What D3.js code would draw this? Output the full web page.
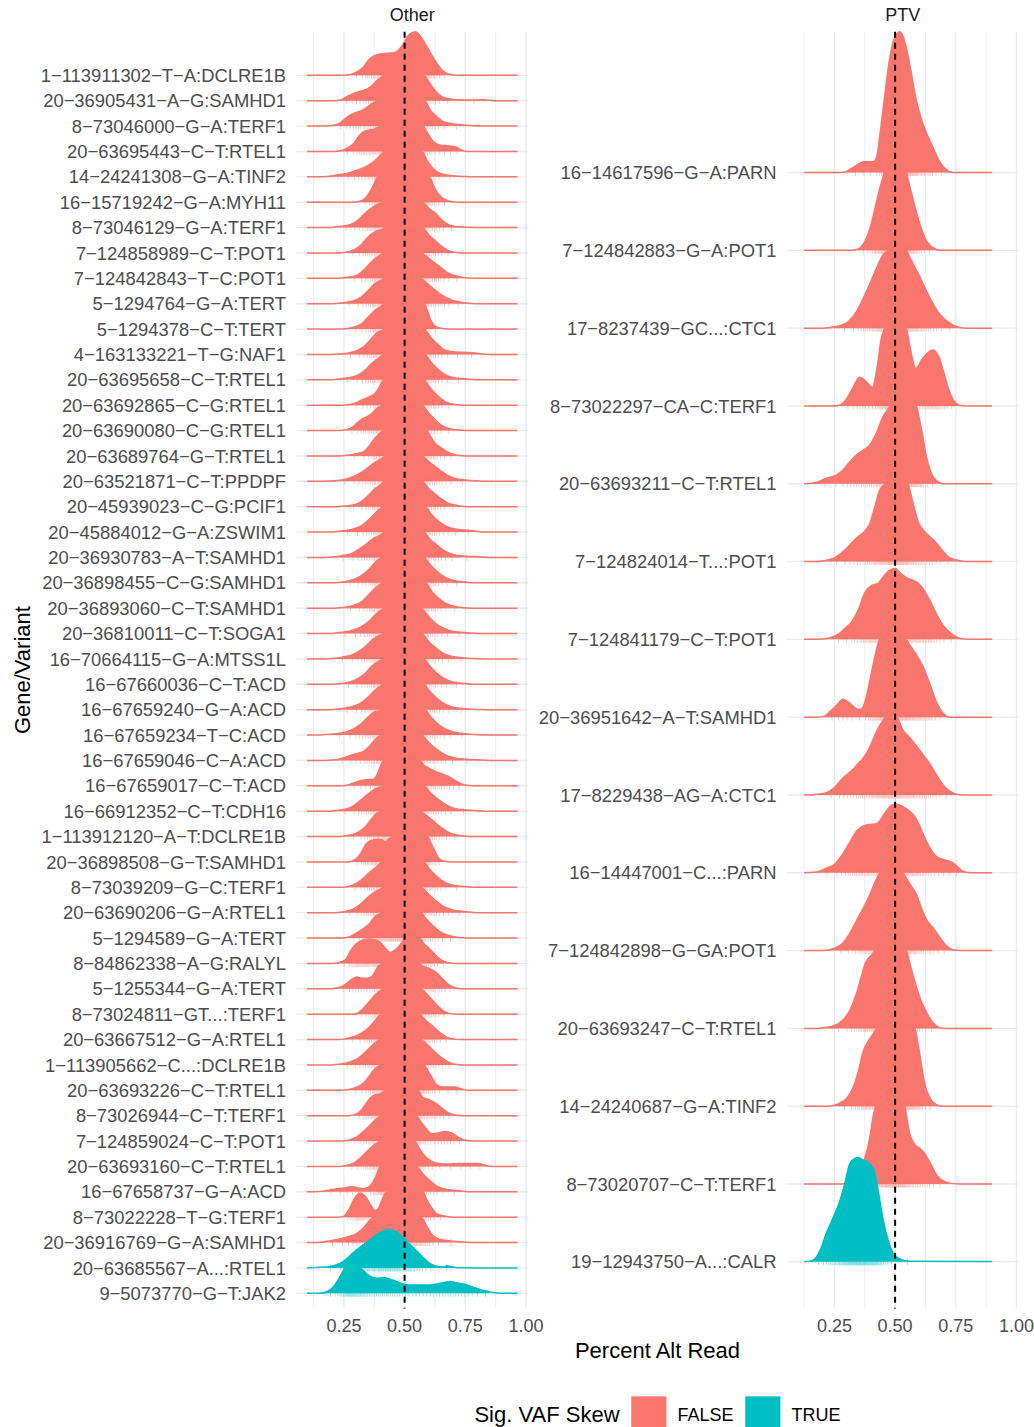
<!DOCTYPE html>
<html>
<head>
<meta charset="utf-8">
<script src="https://cdn.jsdelivr.net/npm/d3@7"></script>
<style>
  html, body { margin: 0; padding: 0; background: #ffffff; }
  svg text { font-family: "Liberation Sans", Arial, Helvetica, sans-serif; }
</style>
</head>
<body>
<svg id="chart" width="1034" height="1427"></svg>
<script>
// ---------- data ----------
const otherVariants = [
  "1−113911302−T−A:DCLRE1B", "20−36905431−A−G:SAMHD1", "8−73046000−G−A:TERF1",
  "20−63695443−C−T:RTEL1", "14−24241308−G−A:TINF2", "16−15719242−G−A:MYH11",
  "8−73046129−G−A:TERF1", "7−124858989−C−T:POT1", "7−124842843−T−C:POT1",
  "5−1294764−G−A:TERT", "5−1294378−C−T:TERT", "4−163133221−T−G:NAF1",
  "20−63695658−C−T:RTEL1", "20−63692865−C−G:RTEL1", "20−63690080−C−G:RTEL1",
  "20−63689764−G−T:RTEL1", "20−63521871−C−T:PPDPF", "20−45939023−C−G:PCIF1",
  "20−45884012−G−A:ZSWIM1", "20−36930783−A−T:SAMHD1", "20−36898455−C−G:SAMHD1",
  "20−36893060−C−T:SAMHD1", "20−36810011−C−T:SOGA1", "16−70664115−G−A:MTSS1L",
  "16−67660036−C−T:ACD", "16−67659240−G−A:ACD", "16−67659234−T−C:ACD",
  "16−67659046−C−A:ACD", "16−67659017−C−T:ACD", "16−66912352−C−T:CDH16",
  "1−113912120−A−T:DCLRE1B", "20−36898508−G−T:SAMHD1", "8−73039209−G−C:TERF1",
  "20−63690206−G−A:RTEL1", "5−1294589−G−A:TERT", "8−84862338−A−G:RALYL",
  "5−1255344−G−A:TERT", "8−73024811−GT...:TERF1", "20−63667512−G−A:RTEL1",
  "1−113905662−C...:DCLRE1B", "20−63693226−C−T:RTEL1", "8−73026944−C−T:TERF1",
  "7−124859024−C−T:POT1", "20−63693160−C−T:RTEL1", "16−67658737−G−A:ACD",
  "8−73022228−T−G:TERF1", "20−36916769−G−A:SAMHD1", "20−63685567−A...:RTEL1",
  "9−5073770−G−T:JAK2"
];
const otherSkew = [
  "FALSE","FALSE","FALSE","FALSE","FALSE","FALSE","FALSE","FALSE","FALSE","FALSE",
  "FALSE","FALSE","FALSE","FALSE","FALSE","FALSE","FALSE","FALSE","FALSE","FALSE",
  "FALSE","FALSE","FALSE","FALSE","FALSE","FALSE","FALSE","FALSE","FALSE","FALSE",
  "FALSE","FALSE","FALSE","FALSE","FALSE","FALSE","FALSE","FALSE","FALSE","FALSE",
  "FALSE","FALSE","FALSE","FALSE","FALSE","FALSE","FALSE","TRUE","TRUE"
];
// density of alt-read fraction per variant: [fraction, ridge height in row units]
const otherDensity = [
  [[0.098,0],[0.25,0],[0.276,0.03],[0.304,0.14],[0.331,0.34],[0.352,0.6],[0.372,0.76],[0.4,0.84],[0.427,0.87],[0.455,0.89],[0.475,1.0],[0.496,1.26],[0.516,1.59],[0.544,1.72],[0.571,1.46],[0.592,1.13],[0.612,0.8],[0.633,0.47],[0.654,0.21],[0.681,0.05],[0.715,0],[0.965,0]],
  [[0.098,0],[0.207,0],[0.235,0.03],[0.262,0.16],[0.29,0.29],[0.317,0.37],[0.345,0.46],[0.365,0.59],[0.386,0.79],[0.407,0.95],[0.45,1.3],[0.5,1.5],[0.55,1.4],[0.585,0.97],[0.606,0.66],[0.626,0.39],[0.647,0.2],[0.674,0.09],[0.715,0.04],[0.784,0.03],[0.825,0.04],[0.88,0],[0.965,0]],
  [[0.098,0],[0.18,0],[0.207,0.03],[0.235,0.13],[0.256,0.3],[0.276,0.43],[0.297,0.53],[0.317,0.59],[0.338,0.7],[0.358,0.83],[0.379,0.96],[0.4,1.02],[0.45,1.35],[0.5,1.5],[0.55,1.4],[0.585,1.0],[0.606,0.63],[0.633,0.37],[0.66,0.17],[0.702,0.08],[0.743,0.04],[0.784,0.01],[0.82,0],[0.965,0]],
  [[0.098,0],[0.21,0],[0.235,0.03],[0.262,0.12],[0.29,0.31],[0.31,0.58],[0.331,0.78],[0.352,0.84],[0.372,0.87],[0.393,0.97],[0.45,1.3],[0.5,1.45],[0.55,1.3],[0.578,1.0],[0.6,0.64],[0.62,0.38],[0.647,0.25],[0.681,0.22],[0.71,0.18],[0.73,0.08],[0.756,0],[0.965,0]],
  [[0.098,0],[0.15,0],[0.179,0.01],[0.22,0.07],[0.262,0.13],[0.303,0.26],[0.345,0.42],[0.372,0.59],[0.4,0.85],[0.413,0.99],[0.45,1.25],[0.5,1.45],[0.55,1.3],[0.578,0.92],[0.592,0.66],[0.612,0.39],[0.633,0.2],[0.66,0.1],[0.7,0.04],[0.75,0.01],[0.8,0],[0.965,0]],
  [[0.098,0],[0.29,0],[0.311,0.03],[0.331,0.1],[0.352,0.34],[0.372,0.67],[0.386,0.97],[0.45,1.4],[0.5,1.5],[0.55,1.4],[0.606,0.97],[0.619,0.67],[0.633,0.41],[0.654,0.18],[0.681,0.05],[0.708,0.01],[0.73,0],[0.965,0]],
  [[0.098,0],[0.19,0],[0.215,0.03],[0.256,0.07],[0.29,0.17],[0.317,0.37],[0.345,0.63],[0.372,0.83],[0.4,0.96],[0.418,1.01],[0.45,1.3],[0.5,1.45],[0.55,1.3],[0.578,0.99],[0.6,0.76],[0.626,0.57],[0.654,0.3],[0.681,0.11],[0.708,0.04],[0.763,0.01],[0.8,0],[0.965,0]],
  [[0.098,0],[0.23,0],[0.256,0.03],[0.29,0.12],[0.317,0.28],[0.338,0.51],[0.359,0.71],[0.379,0.84],[0.4,0.91],[0.414,0.97],[0.45,1.3],[0.5,1.45],[0.55,1.25],[0.585,0.91],[0.6,0.71],[0.626,0.49],[0.654,0.25],[0.681,0.09],[0.722,0.01],[0.75,0],[0.965,0]],
  [[0.098,0],[0.23,0],[0.256,0.03],[0.297,0.09],[0.324,0.26],[0.352,0.53],[0.379,0.79],[0.4,0.92],[0.41,1.0],[0.45,1.3],[0.5,1.45],[0.55,1.25],[0.578,0.96],[0.6,0.79],[0.626,0.59],[0.654,0.39],[0.681,0.2],[0.722,0.07],[0.763,0.01],[0.8,0],[0.965,0]],
  [[0.098,0],[0.18,0],[0.215,0.01],[0.256,0.05],[0.297,0.14],[0.324,0.28],[0.352,0.54],[0.379,0.8],[0.4,0.91],[0.414,1.0],[0.45,1.3],[0.5,1.45],[0.55,1.2],[0.578,0.93],[0.6,0.74],[0.626,0.54],[0.654,0.34],[0.695,0.14],[0.736,0.05],[0.777,0.01],[0.81,0],[0.965,0]],
  [[0.098,0],[0.23,0],[0.256,0.01],[0.297,0.09],[0.324,0.22],[0.352,0.49],[0.379,0.75],[0.4,0.88],[0.414,1.0],[0.45,1.3],[0.5,1.45],[0.55,1.35],[0.585,0.95],[0.595,0.7],[0.605,0.42],[0.62,0.17],[0.64,0.05],[0.667,0.01],[0.69,0],[0.965,0]],
  [[0.098,0],[0.18,0],[0.215,0.01],[0.256,0.04],[0.297,0.13],[0.331,0.3],[0.359,0.57],[0.386,0.86],[0.41,0.96],[0.45,1.3],[0.5,1.45],[0.55,1.3],[0.592,0.89],[0.612,0.63],[0.64,0.37],[0.667,0.17],[0.708,0.1],[0.763,0.08],[0.804,0.04],[0.85,0],[0.965,0]],
  [[0.098,0],[0.19,0],[0.228,0.03],[0.27,0.08],[0.311,0.2],[0.338,0.39],[0.366,0.66],[0.393,0.86],[0.414,1.01],[0.45,1.3],[0.5,1.45],[0.55,1.3],[0.592,0.92],[0.612,0.66],[0.64,0.39],[0.667,0.2],[0.708,0.07],[0.763,0.03],[0.8,0],[0.965,0]],
  [[0.098,0],[0.23,0],[0.256,0.01],[0.297,0.08],[0.324,0.21],[0.352,0.32],[0.379,0.47],[0.393,0.67],[0.404,0.87],[0.414,1.0],[0.45,1.3],[0.5,1.45],[0.55,1.3],[0.592,0.87],[0.612,0.61],[0.64,0.34],[0.667,0.14],[0.708,0.03],[0.74,0],[0.965,0]],
  [[0.098,0],[0.23,0],[0.256,0.03],[0.283,0.12],[0.303,0.29],[0.324,0.45],[0.345,0.55],[0.366,0.68],[0.386,0.88],[0.407,1.0],[0.45,1.3],[0.5,1.45],[0.55,1.25],[0.585,0.88],[0.606,0.62],[0.633,0.36],[0.66,0.16],[0.695,0.05],[0.736,0.01],[0.77,0],[0.965,0]],
  [[0.098,0],[0.21,0],[0.242,0.01],[0.297,0.08],[0.331,0.17],[0.352,0.37],[0.372,0.63],[0.41,1.0],[0.45,1.3],[0.5,1.45],[0.55,1.3],[0.592,1.0],[0.626,0.5],[0.654,0.3],[0.695,0.08],[0.736,0.01],[0.77,0],[0.965,0]],
  [[0.098,0],[0.15,0],[0.187,0.01],[0.242,0.05],[0.283,0.16],[0.317,0.32],[0.345,0.51],[0.372,0.71],[0.4,0.87],[0.42,1.0],[0.45,1.3],[0.5,1.45],[0.55,1.25],[0.578,0.97],[0.6,0.78],[0.626,0.58],[0.654,0.38],[0.681,0.21],[0.722,0.08],[0.777,0.03],[0.82,0],[0.965,0]],
  [[0.098,0],[0.22,0],[0.256,0.03],[0.297,0.09],[0.324,0.22],[0.352,0.46],[0.379,0.72],[0.4,0.86],[0.414,1.0],[0.45,1.3],[0.5,1.45],[0.55,1.25],[0.578,0.97],[0.6,0.72],[0.626,0.5],[0.654,0.29],[0.681,0.13],[0.722,0.04],[0.76,0],[0.965,0]],
  [[0.098,0],[0.19,0],[0.228,0.03],[0.276,0.09],[0.317,0.22],[0.345,0.42],[0.372,0.68],[0.393,0.88],[0.41,1.01],[0.45,1.3],[0.5,1.45],[0.55,1.3],[0.592,0.95],[0.612,0.68],[0.64,0.42],[0.667,0.25],[0.708,0.12],[0.763,0.07],[0.797,0.03],[0.84,0],[0.965,0]],
  [[0.098,0],[0.15,0],[0.187,0.01],[0.242,0.07],[0.283,0.16],[0.317,0.36],[0.345,0.55],[0.372,0.75],[0.4,0.88],[0.414,0.99],[0.45,1.3],[0.5,1.45],[0.55,1.3],[0.585,0.95],[0.606,0.71],[0.633,0.49],[0.66,0.29],[0.695,0.13],[0.75,0.05],[0.804,0.03],[0.85,0],[0.965,0]],
  [[0.098,0],[0.2,0],[0.228,0.01],[0.276,0.09],[0.317,0.25],[0.345,0.45],[0.366,0.67],[0.386,0.88],[0.407,1.01],[0.45,1.3],[0.5,1.45],[0.55,1.3],[0.585,0.97],[0.606,0.71],[0.633,0.45],[0.66,0.25],[0.702,0.09],[0.75,0.03],[0.79,0],[0.965,0]],
  [[0.098,0],[0.21,0],[0.242,0.03],[0.29,0.11],[0.324,0.26],[0.352,0.53],[0.379,0.79],[0.407,0.99],[0.45,1.3],[0.5,1.45],[0.55,1.3],[0.592,0.96],[0.612,0.66],[0.64,0.39],[0.667,0.2],[0.708,0.07],[0.763,0.01],[0.79,0],[0.965,0]],
  [[0.098,0],[0.19,0],[0.228,0.04],[0.283,0.12],[0.324,0.28],[0.352,0.47],[0.379,0.74],[0.4,0.91],[0.414,1.0],[0.45,1.3],[0.5,1.45],[0.55,1.2],[0.578,0.93],[0.6,0.67],[0.626,0.41],[0.66,0.21],[0.702,0.08],[0.763,0.03],[0.8,0],[0.965,0]],
  [[0.098,0],[0.15,0],[0.187,0.01],[0.242,0.07],[0.283,0.16],[0.317,0.33],[0.345,0.55],[0.366,0.75],[0.393,0.91],[0.414,1.0],[0.45,1.3],[0.5,1.45],[0.55,1.25],[0.578,0.95],[0.6,0.68],[0.626,0.46],[0.654,0.25],[0.688,0.12],[0.736,0.05],[0.804,0.01],[0.84,0],[0.965,0]],
  [[0.098,0],[0.18,0],[0.215,0.01],[0.27,0.08],[0.311,0.24],[0.338,0.43],[0.363,0.7],[0.386,0.86],[0.41,1.0],[0.45,1.3],[0.5,1.45],[0.55,1.3],[0.585,0.96],[0.606,0.7],[0.633,0.43],[0.66,0.24],[0.702,0.08],[0.75,0.03],[0.79,0],[0.965,0]],
  [[0.098,0],[0.19,0],[0.228,0.03],[0.283,0.12],[0.317,0.25],[0.345,0.45],[0.372,0.71],[0.393,0.88],[0.41,1.0],[0.45,1.3],[0.5,1.45],[0.55,1.3],[0.585,0.97],[0.606,0.71],[0.633,0.45],[0.667,0.22],[0.708,0.08],[0.763,0.03],[0.811,0.01],[0.85,0],[0.965,0]],
  [[0.098,0],[0.15,0],[0.187,0.03],[0.242,0.08],[0.283,0.21],[0.317,0.41],[0.345,0.67],[0.372,0.89],[0.4,0.97],[0.45,1.3],[0.5,1.45],[0.55,1.3],[0.592,0.93],[0.612,0.67],[0.64,0.41],[0.674,0.21],[0.722,0.08],[0.777,0.03],[0.82,0],[0.965,0]],
  [[0.098,0],[0.15,0],[0.187,0.01],[0.228,0.05],[0.256,0.13],[0.283,0.22],[0.311,0.29],[0.331,0.36],[0.352,0.53],[0.372,0.75],[0.393,0.95],[0.41,1.01],[0.45,1.3],[0.5,1.45],[0.55,1.25],[0.578,0.95],[0.6,0.71],[0.626,0.49],[0.66,0.26],[0.695,0.13],[0.75,0.05],[0.804,0.03],[0.85,0],[0.965,0]],
  [[0.098,0],[0.23,0],[0.256,0.01],[0.29,0.11],[0.317,0.2],[0.345,0.24],[0.372,0.26],[0.386,0.43],[0.4,0.76],[0.41,0.96],[0.45,1.3],[0.5,1.45],[0.564,1.0],[0.578,0.83],[0.6,0.7],[0.626,0.57],[0.654,0.47],[0.681,0.37],[0.708,0.21],[0.736,0.07],[0.763,0.01],[0.79,0],[0.965,0]],
  [[0.098,0],[0.18,0],[0.215,0.03],[0.256,0.08],[0.29,0.21],[0.317,0.42],[0.345,0.64],[0.372,0.84],[0.4,0.95],[0.414,1.0],[0.45,1.3],[0.5,1.45],[0.55,1.3],[0.585,0.97],[0.606,0.74],[0.633,0.51],[0.66,0.32],[0.695,0.14],[0.75,0.05],[0.79,0.03],[0.83,0],[0.965,0]],
  [[0.098,0],[0.23,0],[0.256,0.03],[0.297,0.11],[0.324,0.26],[0.345,0.46],[0.366,0.72],[0.386,0.92],[0.407,0.99],[0.45,1.3],[0.5,1.45],[0.55,1.2],[0.578,0.92],[0.6,0.76],[0.626,0.55],[0.654,0.33],[0.688,0.13],[0.736,0.03],[0.77,0],[0.965,0]],
  [[0.098,0],[0.26,0],[0.283,0.03],[0.303,0.14],[0.324,0.41],[0.338,0.67],[0.352,0.8],[0.372,0.87],[0.393,0.89],[0.407,0.87],[0.42,0.8],[0.434,0.9],[0.448,1.0],[0.5,1.4],[0.55,1.35],[0.6,0.93],[0.612,0.67],[0.626,0.41],[0.64,0.14],[0.66,0.04],[0.695,0],[0.965,0]],
  [[0.098,0],[0.245,0],[0.27,0.03],[0.303,0.16],[0.331,0.36],[0.359,0.62],[0.386,0.82],[0.404,1.0],[0.45,1.3],[0.5,1.45],[0.55,1.3],[0.585,0.95],[0.606,0.68],[0.633,0.42],[0.66,0.22],[0.695,0.09],[0.75,0.03],[0.79,0],[0.965,0]],
  [[0.098,0],[0.21,0],[0.242,0.03],[0.283,0.12],[0.317,0.32],[0.345,0.58],[0.372,0.78],[0.4,0.93],[0.414,1.01],[0.45,1.3],[0.5,1.45],[0.55,1.2],[0.578,0.93],[0.6,0.71],[0.626,0.49],[0.654,0.28],[0.695,0.12],[0.75,0.04],[0.8,0],[0.965,0]],
  [[0.098,0],[0.24,0],[0.27,0.04],[0.297,0.17],[0.324,0.33],[0.352,0.53],[0.379,0.86],[0.4,0.97],[0.45,1.3],[0.5,1.45],[0.55,1.25],[0.571,0.99],[0.592,0.72],[0.619,0.46],[0.654,0.2],[0.695,0.07],[0.736,0.01],[0.77,0],[0.965,0]],
  [[0.098,0],[0.2,0],[0.228,0.03],[0.256,0.14],[0.276,0.47],[0.297,0.74],[0.324,0.91],[0.352,0.96],[0.379,0.93],[0.4,0.83],[0.42,0.61],[0.441,0.43],[0.462,0.54],[0.482,0.74],[0.496,0.93],[0.51,1.05],[0.535,1.2],[0.564,1.0],[0.578,0.8],[0.6,0.6],[0.626,0.34],[0.654,0.12],[0.695,0.01],[0.72,0],[0.965,0]],
  [[0.098,0],[0.19,0],[0.215,0.03],[0.242,0.09],[0.263,0.22],[0.283,0.38],[0.303,0.46],[0.324,0.42],[0.345,0.42],[0.366,0.49],[0.379,0.68],[0.393,0.91],[0.41,1.0],[0.45,1.3],[0.5,1.4],[0.558,1.01],[0.578,0.88],[0.606,0.78],[0.633,0.62],[0.66,0.36],[0.688,0.12],[0.722,0.01],[0.75,0],[0.965,0]],
  [[0.098,0],[0.27,0],[0.297,0.01],[0.324,0.17],[0.352,0.46],[0.379,0.76],[0.4,0.93],[0.414,1.0],[0.45,1.3],[0.5,1.45],[0.55,1.25],[0.578,0.93],[0.6,0.7],[0.626,0.43],[0.654,0.17],[0.681,0.04],[0.71,0],[0.965,0]],
  [[0.098,0],[0.23,0],[0.256,0.03],[0.297,0.13],[0.324,0.26],[0.352,0.46],[0.376,0.72],[0.393,0.92],[0.404,1.01],[0.45,1.3],[0.5,1.45],[0.55,1.15],[0.571,0.92],[0.592,0.72],[0.619,0.5],[0.647,0.26],[0.674,0.09],[0.708,0.01],[0.74,0],[0.965,0]],
  [[0.098,0],[0.2,0],[0.228,0.03],[0.276,0.12],[0.311,0.28],[0.338,0.5],[0.366,0.76],[0.386,0.93],[0.4,1.0],[0.45,1.3],[0.5,1.45],[0.55,1.2],[0.578,0.93],[0.6,0.74],[0.626,0.5],[0.654,0.28],[0.681,0.11],[0.722,0.01],[0.75,0],[0.965,0]],
  [[0.098,0],[0.245,0],[0.27,0.03],[0.303,0.13],[0.331,0.29],[0.352,0.53],[0.372,0.79],[0.393,0.95],[0.404,1.0],[0.45,1.3],[0.5,1.45],[0.55,1.3],[0.585,0.95],[0.606,0.62],[0.626,0.29],[0.654,0.13],[0.681,0.13],[0.708,0.13],[0.736,0.05],[0.763,0],[0.965,0]],
  [[0.098,0],[0.27,0],[0.29,0.03],[0.317,0.17],[0.338,0.43],[0.359,0.7],[0.379,0.83],[0.4,0.86],[0.414,0.96],[0.45,1.25],[0.5,1.4],[0.558,0.96],[0.578,0.7],[0.6,0.63],[0.626,0.5],[0.654,0.3],[0.681,0.11],[0.708,0.03],[0.74,0],[0.965,0]],
  [[0.098,0],[0.245,0],[0.27,0.03],[0.303,0.16],[0.331,0.38],[0.359,0.64],[0.379,0.84],[0.4,0.97],[0.45,1.3],[0.5,1.35],[0.551,0.97],[0.571,0.71],[0.592,0.45],[0.612,0.29],[0.64,0.32],[0.667,0.38],[0.695,0.32],[0.722,0.14],[0.75,0.03],[0.78,0],[0.965,0]],
  [[0.098,0],[0.23,0],[0.256,0.03],[0.29,0.13],[0.317,0.33],[0.345,0.59],[0.372,0.83],[0.393,0.96],[0.45,1.3],[0.5,1.35],[0.544,0.99],[0.564,0.66],[0.585,0.39],[0.612,0.2],[0.64,0.11],[0.681,0.09],[0.722,0.11],[0.763,0.11],[0.797,0.11],[0.825,0.07],[0.846,0.01],[0.87,0],[0.965,0]],
  [[0.098,0],[0.13,0],[0.167,0.03],[0.222,0.12],[0.256,0.16],[0.283,0.2],[0.304,0.16],[0.331,0.12],[0.359,0.25],[0.379,0.55],[0.393,0.88],[0.4,1.0],[0.45,1.3],[0.5,1.4],[0.551,1.0],[0.578,0.68],[0.606,0.42],[0.633,0.22],[0.674,0.09],[0.729,0.04],[0.77,0],[0.965,0]],
  [[0.098,0],[0.225,0],[0.249,0.03],[0.27,0.29],[0.29,0.68],[0.304,0.88],[0.317,0.95],[0.338,0.82],[0.359,0.49],[0.379,0.26],[0.393,0.36],[0.407,0.68],[0.42,0.95],[0.434,1.0],[0.47,1.3],[0.5,1.4],[0.545,1.3],[0.578,1.0],[0.592,0.68],[0.612,0.36],[0.633,0.13],[0.674,0.03],[0.71,0],[0.965,0]],
  [[0.098,0],[0.13,0],[0.167,0.03],[0.208,0.09],[0.263,0.22],[0.304,0.36],[0.331,0.58],[0.359,0.91],[0.372,1.0],[0.42,1.25],[0.47,1.35],[0.52,1.3],[0.55,1.2],[0.571,1.0],[0.592,0.64],[0.612,0.32],[0.64,0.14],[0.674,0.08],[0.715,0.04],[0.756,0.01],[0.8,0],[0.965,0]],
  [[0.098,0],[0.13,0.02],[0.153,0.03],[0.18,0.04],[0.208,0.09],[0.249,0.26],[0.276,0.49],[0.304,0.72],[0.331,0.92],[0.359,1.12],[0.386,1.32],[0.414,1.47],[0.441,1.51],[0.468,1.41],[0.496,1.18],[0.523,0.92],[0.551,0.66],[0.578,0.39],[0.606,0.17],[0.633,0.07],[0.66,0.04],[0.674,0.08],[0.69,0.05],[0.702,0.03],[0.743,0.005],[0.8,0],[0.965,0]],
  [[0.098,0],[0.153,0],[0.181,0.07],[0.201,0.2],[0.222,0.46],[0.242,0.79],[0.256,1.05],[0.27,1.25],[0.283,1.32],[0.304,1.18],[0.324,0.95],[0.345,0.76],[0.359,0.66],[0.386,0.59],[0.414,0.62],[0.441,0.55],[0.468,0.46],[0.496,0.37],[0.523,0.33],[0.551,0.33],[0.578,0.33],[0.606,0.33],[0.633,0.37],[0.66,0.42],[0.688,0.46],[0.708,0.43],[0.729,0.39],[0.756,0.33],[0.784,0.24],[0.818,0.13],[0.853,0.05],[0.88,0.01],[0.91,0],[0.965,0]]
];

const ptvVariants = [
  "16−14617596−G−A:PARN", "7−124842883−G−A:POT1", "17−8237439−GC...:CTC1",
  "8−73022297−CA−C:TERF1", "20−63693211−C−T:RTEL1", "7−124824014−T...:POT1",
  "7−124841179−C−T:POT1", "20−36951642−A−T:SAMHD1", "17−8229438−AG−A:CTC1",
  "16−14447001−C...:PARN", "7−124842898−G−GA:POT1", "20−63693247−C−T:RTEL1",
  "14−24240687−G−A:TINF2", "8−73020707−C−T:TERF1", "19−12943750−A...:CALR"
];
const ptvSkew = [
  "FALSE","FALSE","FALSE","FALSE","FALSE","FALSE","FALSE","FALSE",
  "FALSE","FALSE","FALSE","FALSE","FALSE","FALSE","TRUE"
];
const ptvDensity = [
  [[0.125,0],[0.27,0],[0.3,0.015],[0.32,0.05],[0.35,0.11],[0.37,0.14],[0.41,0.14],[0.424,0.2],[0.438,0.5],[0.455,0.93],[0.4725,1.36],[0.493,1.69],[0.52,1.81],[0.545,1.62],[0.562,1.36],[0.587,0.93],[0.61,0.67],[0.63,0.5],[0.655,0.33],[0.68,0.16],[0.706,0.05],[0.74,0],[0.9,0]],
  [[0.125,0],[0.32,0],[0.342,0.01],[0.376,0.12],[0.397,0.29],[0.418,0.55],[0.438,0.81],[0.455,0.99],[0.5,1.45],[0.52,1.45],[0.548,0.99],[0.576,0.63],[0.603,0.33],[0.63,0.12],[0.658,0.03],[0.69,0],[0.9,0]],
  [[0.125,0],[0.2,0],[0.217,0.005],[0.272,0.03],[0.306,0.08],[0.34,0.21],[0.368,0.38],[0.396,0.57],[0.423,0.77],[0.45,0.94],[0.471,1.0],[0.5,1.15],[0.525,1.17],[0.547,1.0],[0.574,0.83],[0.602,0.66],[0.629,0.48],[0.657,0.31],[0.684,0.18],[0.718,0.08],[0.753,0.02],[0.794,0],[0.9,0]],
  [[0.125,0],[0.25,0],[0.272,0.01],[0.3,0.09],[0.327,0.24],[0.354,0.37],[0.382,0.31],[0.407,0.24],[0.426,0.5],[0.444,0.88],[0.457,1.0],[0.5,1.5],[0.547,1.0],[0.567,0.67],[0.585,0.48],[0.609,0.59],[0.636,0.69],[0.657,0.72],[0.677,0.65],[0.698,0.46],[0.718,0.24],[0.739,0.08],[0.766,0.01],[0.8,0],[0.9,0]],
  [[0.125,0],[0.176,0.02],[0.217,0.07],[0.258,0.11],[0.286,0.18],[0.313,0.28],[0.34,0.37],[0.368,0.43],[0.396,0.5],[0.423,0.65],[0.45,0.86],[0.478,0.99],[0.53,1.3],[0.588,1.0],[0.609,0.69],[0.629,0.35],[0.65,0.13],[0.67,0.04],[0.698,0],[0.9,0]],
  [[0.125,0],[0.175,0],[0.206,0.01],[0.245,0.04],[0.286,0.13],[0.313,0.21],[0.34,0.3],[0.368,0.37],[0.396,0.49],[0.416,0.7],[0.437,0.92],[0.457,1.0],[0.5,1.4],[0.554,1.0],[0.574,0.75],[0.595,0.51],[0.615,0.41],[0.643,0.32],[0.67,0.24],[0.698,0.13],[0.725,0.05],[0.766,0.01],[0.8,0],[0.9,0]],
  [[0.125,0],[0.19,0],[0.217,0.01],[0.258,0.05],[0.293,0.14],[0.32,0.22],[0.347,0.37],[0.374,0.59],[0.402,0.69],[0.43,0.72],[0.45,0.8],[0.478,0.89],[0.5,0.91],[0.526,0.84],[0.554,0.78],[0.588,0.74],[0.615,0.65],[0.643,0.5],[0.67,0.33],[0.698,0.18],[0.725,0.09],[0.753,0.03],[0.794,0],[0.9,0]],
  [[0.125,0],[0.18,0],[0.206,0.01],[0.231,0.07],[0.258,0.15],[0.286,0.23],[0.313,0.18],[0.34,0.11],[0.357,0.1],[0.374,0.18],[0.396,0.47],[0.416,0.77],[0.437,1.0],[0.47,1.03],[0.51,1.02],[0.547,0.99],[0.56,0.93],[0.588,0.8],[0.615,0.65],[0.643,0.43],[0.67,0.2],[0.698,0.05],[0.725,0],[0.9,0]],
  [[0.125,0],[0.15,0],[0.176,0.01],[0.217,0.03],[0.251,0.1],[0.286,0.22],[0.32,0.31],[0.347,0.4],[0.368,0.47],[0.39,0.58],[0.41,0.72],[0.426,0.83],[0.46,1.0],[0.495,1.06],[0.533,0.83],[0.56,0.74],[0.588,0.63],[0.615,0.52],[0.643,0.4],[0.67,0.26],[0.698,0.13],[0.725,0.05],[0.753,0.01],[0.78,0],[0.9,0]],
  [[0.125,0],[0.15,0.005],[0.176,0.01],[0.217,0.06],[0.251,0.11],[0.286,0.25],[0.313,0.39],[0.34,0.53],[0.361,0.59],[0.39,0.62],[0.423,0.63],[0.45,0.73],[0.478,0.85],[0.5,0.885],[0.533,0.85],[0.56,0.79],[0.588,0.69],[0.615,0.5],[0.643,0.32],[0.67,0.21],[0.698,0.17],[0.732,0.14],[0.753,0.09],[0.78,0.02],[0.815,0],[0.9,0]],
  [[0.125,0],[0.2,0],[0.23,0.01],[0.258,0.04],[0.286,0.1],[0.313,0.22],[0.34,0.38],[0.368,0.54],[0.396,0.72],[0.42,0.9],[0.437,1.0],[0.475,1.18],[0.505,1.15],[0.533,1.0],[0.56,0.86],[0.588,0.72],[0.609,0.54],[0.629,0.4],[0.657,0.29],[0.684,0.17],[0.712,0.06],[0.739,0.01],[0.77,0],[0.9,0]],
  [[0.125,0],[0.18,0],[0.206,0.01],[0.245,0.03],[0.286,0.11],[0.313,0.23],[0.34,0.44],[0.361,0.67],[0.379,0.85],[0.402,0.94],[0.416,1.0],[0.47,1.25],[0.51,1.22],[0.547,1.0],[0.567,0.76],[0.588,0.53],[0.609,0.34],[0.629,0.21],[0.657,0.07],[0.684,0.01],[0.71,0],[0.9,0]],
  [[0.125,0],[0.22,0],[0.245,0.01],[0.272,0.04],[0.3,0.1],[0.327,0.24],[0.347,0.43],[0.368,0.7],[0.39,0.84],[0.41,0.93],[0.426,1.0],[0.5,1.03],[0.581,1.0],[0.595,0.79],[0.609,0.52],[0.622,0.29],[0.643,0.11],[0.67,0.02],[0.698,0],[0.9,0]],
  [[0.125,0],[0.28,0],[0.3,0.02],[0.325,0.06],[0.35,0.15],[0.375,0.33],[0.396,0.6],[0.41,0.88],[0.42,1.0],[0.475,1.32],[0.5,1.3],[0.54,1.0],[0.56,0.65],[0.581,0.51],[0.602,0.46],[0.622,0.39],[0.643,0.28],[0.67,0.12],[0.698,0.04],[0.739,0.005],[0.77,0],[0.9,0]],
  [[0.125,0],[0.162,0.02],[0.19,0.14],[0.217,0.37],[0.245,0.57],[0.272,0.78],[0.293,1.01],[0.313,1.26],[0.334,1.33],[0.347,1.34],[0.368,1.31],[0.396,1.26],[0.416,1.15],[0.43,0.92],[0.45,0.55],[0.471,0.28],[0.492,0.11],[0.512,0.05],[0.54,0.015],[0.58,0.006],[0.9,0.004]]
];

const facetNames = ["Other", "PTV"];
const xTicks = [0.25, 0.5, 0.75, 1.0];
const xMinorTicks = [0.125, 0.375, 0.625, 0.875];
const skewLevels = ["FALSE", "TRUE"];
const skewColors = ["#F8766D", "#00BFC4"];
const referenceVaf = 0.5;

// ---------- layout ----------
const svg = d3.select("#chart");
const plotTop = 31.7, plotBottom = 1308.5;
const panelWidth = 231.5;
const panelLefts = [296.5, 787];
const gridColor = "#EBEBEB";
const axisTextColor = "#4D4D4D";

const colour = d3.scaleOrdinal().domain(skewLevels).range(skewColors);

const panels = [
  { name: facetNames[0], left: panelLefts[0], variants: otherVariants, skew: otherSkew, density: otherDensity },
  { name: facetNames[1], left: panelLefts[1], variants: ptvVariants, skew: ptvSkew, density: ptvDensity }
];

// shared x limits over both facets, expanded by 5%
const allX = panels.flatMap(p => p.density.flatMap(r => r.map(d => d[0])));
const [xLo, xHi] = d3.extent(allX);
const xPad = (xHi - xLo) * 0.05;

// positions of jittered observations taken from the ridge's cumulative mass
function rugPositions(pts, count) {
  const f = d3.scaleLinear().domain(pts.map(d => d[0])).range(pts.map(d => d[1])).clamp(true);
  const x0 = pts[0][0], x1 = pts[pts.length - 1][0];
  const steps = 600, xs = [], cum = [0];
  for (let k = 0; k <= steps; k++) xs.push(x0 + (x1 - x0) * k / steps);
  for (let k = 1; k <= steps; k++) cum.push(cum[k - 1] + (f(xs[k]) + f(xs[k - 1])) / 2);
  const total = cum[steps];
  const out = [];
  for (let j = 0; j < count; j++) {
    const target = total * (j + 0.5) / count;
    const idx = d3.bisectLeft(cum, target);
    out.push(xs[Math.min(idx, steps)]);
  }
  return out;
}

panels.forEach(p => {
  const x = d3.scaleLinear().domain([xLo - xPad, xHi + xPad]).range([p.left, p.left + panelWidth]);
  const n = p.variants.length;
  const yTop = d3.max(p.density, (r, i) => (n - i) + d3.max(r, d => d[1]));
  const y = d3.scaleLinear().domain([0.4, yTop]).range([plotBottom, plotTop]);
  const g = svg.append("g");

  // grid
  g.selectAll("line.minor").data(xMinorTicks).join("line")
    .attr("x1", d => x(d)).attr("x2", d => x(d))
    .attr("y1", plotTop).attr("y2", plotBottom)
    .attr("stroke", gridColor).attr("stroke-width", 0.9);
  g.selectAll("line.major").data(xTicks).join("line")
    .attr("x1", d => x(d)).attr("x2", d => x(d))
    .attr("y1", plotTop).attr("y2", plotBottom)
    .attr("stroke", gridColor).attr("stroke-width", 1.4);
  g.selectAll("line.row").data(p.variants).join("line")
    .attr("x1", x.range()[0]).attr("x2", x.range()[1])
    .attr("y1", (d, i) => y(n - i)).attr("y2", (d, i) => y(n - i))
    .attr("stroke", gridColor).attr("stroke-width", 1.4);

  // ridges, drawn top to bottom so lower ridges overlap upper ones
  p.density.forEach((pts, i) => {
    const pos = n - i;
    const c = colour(p.skew[i]);
    const area = d3.area().x(d => x(d[0])).y0(y(pos)).y1(d => y(pos + d[1])).curve(d3.curveMonotoneX);
    const line = d3.line().x(d => x(d[0])).y(d => y(pos + d[1])).curve(d3.curveMonotoneX);
    const rg = g.append("g");
    rg.append("path").attr("d", area(pts)).attr("fill", c);
    rg.append("path").attr("d", line(pts)).attr("fill", "none")
      .attr("stroke", c).attr("stroke-width", 1.5);
    rg.selectAll("line").data(rugPositions(pts, 70)).join("line")
      .attr("x1", d => x(d)).attr("x2", d => x(d))
      .attr("y1", y(pos) - 3.5).attr("y2", y(pos) + 3.5)
      .attr("stroke", c).attr("stroke-opacity", 0.55).attr("stroke-width", 0.7);
  });

  // reference line at balanced allele fraction
  g.append("line")
    .attr("x1", x(referenceVaf)).attr("x2", x(referenceVaf))
    .attr("y1", plotTop).attr("y2", plotBottom)
    .attr("stroke", "#000").attr("stroke-width", 2).attr("stroke-dasharray", "6,5");

  // y axis labels
  g.selectAll("text.ylab").data(p.variants).join("text")
    .attr("x", p.left - 10.5).attr("y", (d, i) => y(n - i)).attr("dy", "0.36em")
    .attr("text-anchor", "end").attr("font-size", 18.4).attr("fill", axisTextColor)
    .text(d => d);

  // x axis labels
  g.selectAll("text.xlab").data(xTicks).join("text")
    .attr("x", d => x(d)).attr("y", 1332)
    .attr("text-anchor", "middle").attr("font-size", 18).attr("fill", axisTextColor)
    .text(d => d3.format(".2f")(d));

  // facet strip
  g.append("text")
    .attr("x", p.left + panelWidth / 2).attr("y", 21)
    .attr("text-anchor", "middle").attr("font-size", 18).attr("fill", "#1A1A1A")
    .text(p.name);
});

// axis titles
const plotCenterX = (panelLefts[0] + panelLefts[1] + panelWidth) / 2;
svg.append("text")
  .attr("x", plotCenterX).attr("y", 1358)
  .attr("text-anchor", "middle").attr("font-size", 22).attr("fill", "#000")
  .text("Percent Alt Read");
svg.append("text")
  .attr("transform", `translate(30,${(plotTop + plotBottom) / 2}) rotate(-90)`)
  .attr("text-anchor", "middle").attr("font-size", 22).attr("fill", "#000")
  .text("Gene/Variant");

// legend
const legend = svg.append("g");
const title = legend.append("text").attr("x", 0).attr("y", 1422)
  .attr("font-size", 22).attr("fill", "#000").text("Sig. VAF Skew");
let cursor = title.node().getComputedTextLength() + 12;
const keySize = 34.5;
skewLevels.forEach((lvl, k) => {
  legend.append("rect").attr("x", cursor).attr("y", 1396.7)
    .attr("width", keySize).attr("height", keySize)
    .attr("fill", colour(lvl)).attr("stroke", colour(lvl)).attr("stroke-opacity", 0.6);
  cursor += keySize + 11.5;
  const t = legend.append("text").attr("x", cursor).attr("y", 1420.7)
    .attr("font-size", 18).attr("fill", "#000").text(lvl);
  cursor += t.node().getComputedTextLength() + (k < skewLevels.length - 1 ? 12 : 0);
});
legend.attr("transform", `translate(${plotCenterX - cursor / 2},0)`);
</script>
</body>
</html>
